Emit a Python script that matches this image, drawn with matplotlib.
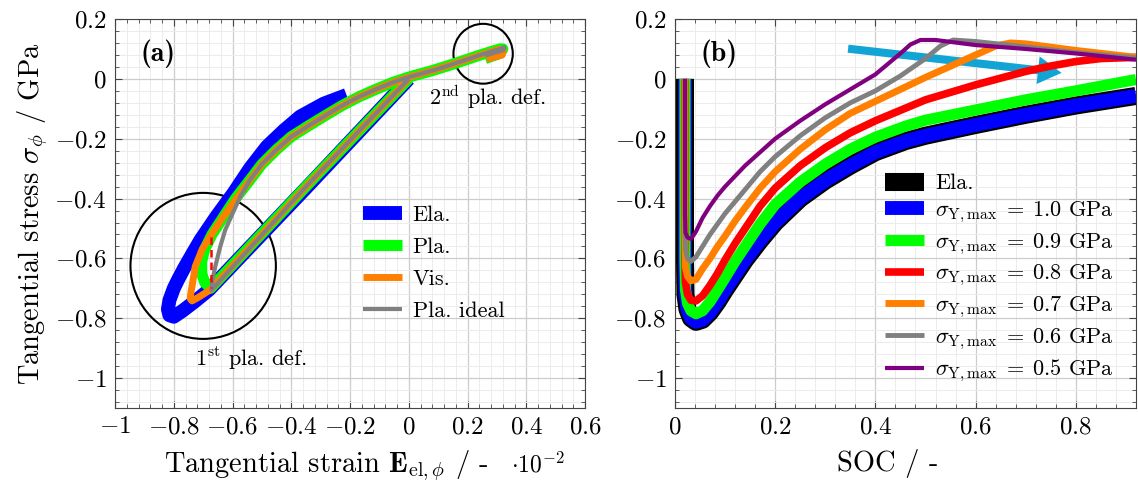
import numpy as np
import matplotlib.pyplot as plt
from matplotlib.ticker import MultipleLocator, FuncFormatter
from matplotlib.patches import Ellipse, FancyArrowPatch

plt.rcParams['font.family'] = ['cmr10']
plt.rcParams['mathtext.fontset'] = 'cm'
plt.rcParams['axes.formatter.use_mathtext'] = True
plt.rcParams['lines.solid_capstyle'] = 'butt'

# ---- panel (a): tangential strain (x 1e-2) vs tangential stress (GPa)
ela_x = [0.0, -0.35, -0.68, -0.73, -0.77, -0.80, -0.815, -0.82, -0.815, -0.80, -0.785, -0.765, -0.737, -0.709,
         -0.655, -0.597, -0.54, -0.483, -0.425, -0.37, -0.29, -0.212]
ela_y = [0.0, -0.365, -0.705, -0.745, -0.775, -0.795, -0.79, -0.77, -0.74, -0.70, -0.67, -0.633, -0.585, -0.538,
         -0.46, -0.382, -0.298, -0.226, -0.172, -0.126, -0.083, -0.054]

arc_x = [-0.541, -0.50, -0.451, -0.40, -0.338, -0.28, -0.225, -0.17, -0.11, -0.055, 0.0, 0.081, 0.14, 0.195, 0.25, 0.31]
arc_y = [-0.338, -0.285, -0.237, -0.193, -0.155, -0.12, -0.088, -0.06, -0.034, -0.012, 0.006, 0.028, 0.046, 0.064, 0.082, 0.10]

pla_x = [0.0, -0.35, -0.675, -0.695, -0.705, -0.705, -0.695, -0.67, -0.63, -0.59] + arc_x + [0.32, 0.31, 0.26]
pla_y = [0.0, -0.36, -0.70, -0.68, -0.65, -0.61, -0.57, -0.52, -0.46, -0.40] + arc_y + [0.10, 0.085, 0.068]

vis_x = [0.0, -0.35, -0.676, -0.716, -0.738, -0.744, -0.742, -0.738, -0.727, -0.704, -0.676, -0.631, -0.586] + arc_x + [0.322, 0.318, 0.265]
vis_y = [0.0, -0.36, -0.705, -0.73, -0.742, -0.735, -0.715, -0.694, -0.627, -0.571, -0.527, -0.46, -0.399] + arc_y + [0.095, 0.08, 0.066]

ideal_x = [0.0, -0.35, -0.672, -0.668, -0.659, -0.642, -0.625, -0.60, -0.572] + arc_x + [0.325, 0.322, 0.26]
ideal_y = [0.0, -0.36, -0.706, -0.67, -0.628, -0.561, -0.505, -0.45, -0.39] + arc_y + [0.106, 0.096, 0.078]

# ---- panel (b): SOC vs tangential stress
soc = [0.02, 0.02, 0.021, 0.025, 0.032, 0.042, 0.055, 0.07, 0.085, 0.1, 0.12, 0.14, 0.17, 0.2, 0.25, 0.3, 0.35, 0.4]
soc_ela = soc + [0.46, 0.5, 0.6, 0.7, 0.8, 0.92]
sig_ela = [0.0, -0.6, -0.72, -0.77, -0.80, -0.812, -0.805, -0.78, -0.745, -0.705, -0.655, -0.605, -0.54, -0.48, -0.40, -0.34, -0.29, -0.245,
           -0.208, -0.19, -0.154, -0.12, -0.089, -0.057]

soc_09 = soc + [0.46, 0.5, 0.6, 0.7, 0.8, 0.92]
sig_09 = [0.0, -0.6, -0.705, -0.75, -0.775, -0.785, -0.775, -0.745, -0.705, -0.665, -0.61, -0.56, -0.485, -0.42, -0.345, -0.285, -0.235, -0.195,
          -0.158, -0.138, -0.104, -0.07, -0.04, -0.002]

soc_08 = soc + [0.5, 0.6, 0.7, 0.75, 0.8, 0.85, 0.92]
sig_08 = [0.0, -0.6, -0.68, -0.72, -0.74, -0.742, -0.725, -0.69, -0.65, -0.605, -0.55, -0.50, -0.425, -0.365, -0.29, -0.23, -0.18, -0.14,
          -0.07, -0.02, 0.025, 0.043, 0.058, 0.068, 0.072]

soc_07 = soc + [0.5, 0.6, 0.64, 0.67, 0.7, 0.8, 0.92]
sig_07 = [0.0, -0.55, -0.63, -0.66, -0.675, -0.67, -0.635, -0.60, -0.56, -0.525, -0.475, -0.43, -0.365, -0.31, -0.235, -0.17, -0.115, -0.075,
          0.005, 0.08, 0.11, 0.12, 0.117, 0.095, 0.072]

soc_06 = soc + [0.45, 0.5, 0.53, 0.555, 0.6, 0.7, 0.8, 0.92]
sig_06 = [0.0, -0.5, -0.57, -0.6, -0.61, -0.595, -0.56, -0.52, -0.485, -0.45, -0.41, -0.37, -0.31, -0.26, -0.19, -0.13, -0.08, -0.04,
          0.01, 0.068, 0.11, 0.13, 0.125, 0.107, 0.088, 0.07]

soc_05 = soc + [0.45, 0.47, 0.49, 0.52, 0.6, 0.7, 0.8, 0.92]
sig_05 = [0.0, -0.45, -0.515, -0.53, -0.535, -0.51, -0.465, -0.425, -0.39, -0.36, -0.325, -0.29, -0.245, -0.20, -0.14, -0.085, -0.035, 0.015,
          0.085, 0.115, 0.13, 0.13, 0.113, 0.1, 0.085, 0.064]

legend_b = ['Ela.'] + [r'$\sigma_{\mathrm{Y,max}}\;=\;%s$ GPa' % v for v in ['1.0', '0.9', '0.8', '0.7', '0.6', '0.5']]

fig = plt.figure(figsize=(11.38, 4.82), dpi=100)
ax1 = fig.add_axes([0.1011, 0.1535, 0.4130, 0.807])
ax2 = fig.add_axes([0.5931, 0.1535, 0.4051, 0.807])

fmt = FuncFormatter(lambda v, p: r'$%g$' % round(v, 6))
for ax in (ax1, ax2):
    ax.set_ylim(-1.1, 0.2)
    ax.yaxis.set_major_locator(MultipleLocator(0.2))
    ax.yaxis.set_minor_locator(MultipleLocator(0.04))
    ax.xaxis.set_major_locator(MultipleLocator(0.2))
    ax.xaxis.set_minor_locator(MultipleLocator(0.04))
    ax.xaxis.set_major_formatter(fmt)
    ax.yaxis.set_major_formatter(fmt)
    ax.grid(which='major', color='#cccccc', lw=0.9)
    ax.grid(which='minor', color='#ececec', lw=0.7)
    ax.set_axisbelow(True)
    ax.tick_params(which='both', direction='in', top=True, right=True, labelsize=18, color='#444444')
    ax.tick_params(which='major', length=5, pad=6)
    ax.tick_params(which='minor', length=3)
    for s in ax.spines.values():
        s.set_color('#444444')

# panel (a)
ax1.set_xlim(-1.0, 0.6)
ax1.plot(ela_x, ela_y, color='#0000ff', lw=10, label='Ela.')
ax1.plot(pla_x, pla_y, color='#00ff00', lw=8, label='Pla.')
ax1.plot(vis_x, vis_y, color='#ff8000', lw=5, label='Vis.')
ax1.plot(ideal_x, ideal_y, color='#808080', lw=3, label='Pla. ideal')
ax1.plot([-0.674, -0.674], [-0.53, -0.70], color='#ff0000', lw=1.8, ls=(0, (3, 2)))
ax1.add_patch(Ellipse((-0.70, -0.625), 0.495, 0.488, fill=False, ec='black', lw=1.5))
ax1.add_patch(Ellipse((0.253, 0.084), 0.202, 0.2, fill=False, ec='black', lw=1.5))
ax1.text(-0.727, -0.935, r'1$^{\mathrm{st}}$ pla. def.', fontsize=16, va='center')
ax1.text(0.07, -0.06, r'2$^{\mathrm{nd}}$ pla. def.', fontsize=16, va='center')
ax1.text(-0.913, 0.084, '(a)', family='cmb10', fontsize=20, va='center')
ax1.legend(loc='upper left', bbox_to_anchor=(0.527, 0.522), frameon=False, fontsize=16,
           handlelength=1.75, handletextpad=0.5, labelspacing=0.56, borderpad=0, borderaxespad=0)
ax1.set_ylabel(r'Tangential stress $\sigma_{\phi}$ / GPa', fontsize=20.5, labelpad=3)
ax1.set_xlabel(r'Tangential strain $\mathbf{E}_{\mathrm{el},\phi}$ / -', fontsize=20.5)
ax1.xaxis.set_label_coords(0.449, -0.105)
fig.text(0.449, 0.036, r'$\cdot 10^{-2}$', fontsize=17, va='center')

# panel (b)
ax2.set_xlim(0, 0.92)
ax2.plot(soc_ela, sig_ela, color='black', lw=13, label=legend_b[0])
ax2.plot(soc_ela, sig_ela, color='#0000ff', lw=10, label=legend_b[1])
ax2.plot(soc_09, sig_09, color='#00ff00', lw=8, label=legend_b[2])
ax2.plot(soc_08, sig_08, color='#ff0000', lw=5.5, label=legend_b[3])
ax2.plot(soc_07, sig_07, color='#ff8000', lw=5, label=legend_b[4])
ax2.plot(soc_06, sig_06, color='#808080', lw=3.5, label=legend_b[5])
ax2.plot(soc_05, sig_05, color='#800080', lw=3, label=legend_b[6])
ax2.add_patch(FancyArrowPatch((0.34, 0.102), (0.777, 0.019), mutation_scale=1,
                              arrowstyle='simple,head_length=17,head_width=20,tail_width=5.8',
                              color='#12a4d4', lw=0))
ax2.text(0.05, 0.084, '(b)', family='cmb10', fontsize=20, va='center')
ax2.legend(loc='upper left', bbox_to_anchor=(0.4555, 0.602), frameon=False, fontsize=16,
           handlelength=1.75, handletextpad=0.5, labelspacing=0.28, borderpad=0, borderaxespad=0)
ax2.set_xlabel('SOC / -', fontsize=20.5)
ax2.xaxis.set_label_coords(0.462, -0.105)

fig.savefig('out.png', dpi=100)
